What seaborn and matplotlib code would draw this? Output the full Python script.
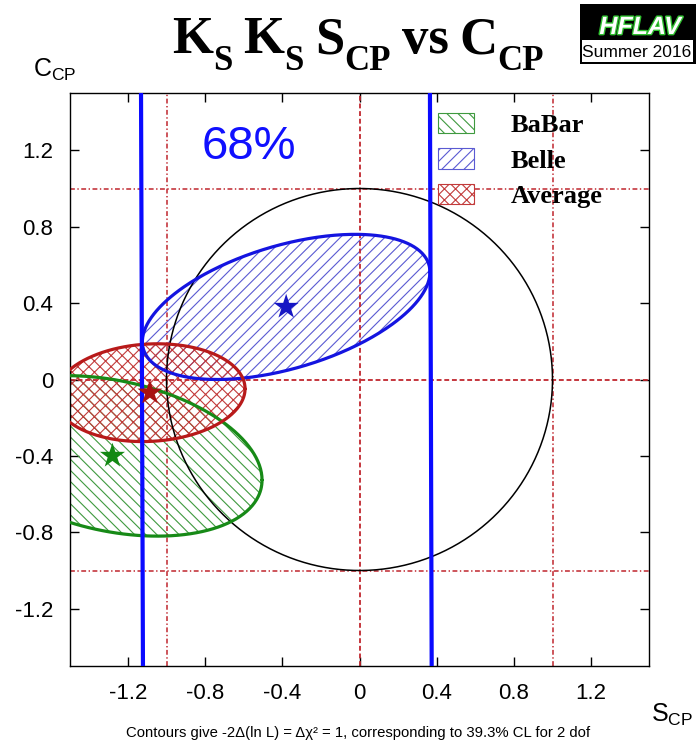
import numpy as np
import pandas as pd
import matplotlib
matplotlib.use("Agg")
import matplotlib.pyplot as plt
import matplotlib.patheffects as pe
from matplotlib.patches import Patch, Rectangle
from matplotlib.ticker import FixedLocator, FixedFormatter
import seaborn as sns

# ---- measurements: S_CP, C_CP, errors and correlation ----
experiments = ["BaBar", "Belle", "Average"]
s_cp = [-1.28, -0.38, -1.086]
c_cp = [-0.40, 0.38, -0.069]
s_err = [0.775, 0.745, 0.493]
c_err = [0.42, 0.38, 0.256]
rho = [-0.30, 0.48, 0.08]

line_colors = ["#178a17", "#1414e0", "#b81a1a"]
hatch_colors = ["#3f9a3f", "#5a5ad2", "#c23a3a"]
star_colors = ["#128812", "#1616c4", "#a81212"]
hatches = ["\\\\\\", "///", "xxx"]

# physical-boundary constraint lines (S_CP at top / bottom of the frame)
bound_top = [-1.132, 0.365]
bound_bottom = [-1.122, 0.374]

ref_dashed = [0.0]
ref_dashdot = [-1.0, 1.0]
circle_radius = 1.0

tick_values = [-1.2, -0.8, -0.4, 0.0, 0.4, 0.8, 1.2]
tick_labels = ["-1.2", "-0.8", "-0.4", "0", "0.4", "0.8", "1.2"]
axis_lim = (-1.5, 1.5)

# title pieces: (main text, subscript)
title_parts = [("K", "S"), ("K", "S"), ("S", "CP"), ("vs", ""), ("C", "CP")]

sns.set_theme(style="ticks")
plt.rcParams.update({
    "font.family": ["Liberation Sans", "DejaVu Sans"],
    "mathtext.fontset": "custom",
    "mathtext.rm": "Liberation Sans",
    "mathtext.it": "Liberation Sans:italic",
    "mathtext.sf": "Liberation Sans",
    "axes.unicode_minus": False,
    "hatch.linewidth": 0.8,
    "lines.scale_dashes": False,
    "text.color": "black",
    "axes.labelcolor": "black",
    "xtick.color": "black",
    "ytick.color": "black",
})

W, H = 696, 742
fig = plt.figure(figsize=(W / 100, H / 100), dpi=100)
ax = fig.add_axes([70 / W, 76 / H, 579 / W, 573 / H])
ax.set_xlim(*axis_lim)
ax.set_ylim(*axis_lim)


def contour(cx, cy, sx, sy, r, n=400):
    t = np.linspace(0, 2 * np.pi, n)
    x = cx + sx * np.cos(t)
    y = cy + sy * (r * np.cos(t) + np.sqrt(1 - r * r) * np.sin(t))
    return x, y


# hatched 1-sigma regions with solid outlines
for i, name in enumerate(experiments):
    x, y = contour(s_cp[i], c_cp[i], s_err[i], c_err[i], rho[i])
    ax.fill(x, y, facecolor="none", edgecolor=hatch_colors[i],
            hatch=hatches[i], linewidth=0, zorder=1)
    df = pd.DataFrame({"S": x, "C": y})
    sns.lineplot(data=df, x="S", y="C", sort=False, estimator=None,
                 color=line_colors[i], linewidth=2.3, ax=ax, zorder=3)

# reference lines
ref_red = "#c0262e"
for v in ref_dashed:
    ax.axvline(v, color=ref_red, lw=1.3, dashes=(3.5, 2.0), zorder=2)
    ax.axhline(v, color=ref_red, lw=1.3, dashes=(3.5, 2.0), zorder=2)
for v in ref_dashdot:
    ax.axvline(v, color=ref_red, lw=1.1, dashes=(3.5, 1.8, 1.0, 1.8), zorder=2)
    ax.axhline(v, color=ref_red, lw=1.1, dashes=(3.5, 1.8, 1.0, 1.8), zorder=2)

# unit circle
t = np.linspace(0, 2 * np.pi, 500)
ax.plot(circle_radius * np.cos(t), circle_radius * np.sin(t),
        color="black", lw=1.1, zorder=2.5)

# boundary lines
for xt, xb in zip(bound_top, bound_bottom):
    ax.plot([xt, xb], [axis_lim[1], axis_lim[0]], color="#0a0aff",
            lw=3.0, zorder=4, solid_capstyle="butt")

# central values
stars = pd.DataFrame({"S": s_cp, "C": c_cp, "exp": experiments})
sns.scatterplot(data=stars, x="S", y="C", hue="exp", palette=star_colors,
                marker="*", s=360, edgecolor="none", legend=False,
                ax=ax, zorder=5)

ax.text(-0.816, 1.157, "68%", color="#1010ff", fontsize=34,
        ha="left", va="baseline", zorder=6)

# axes styling
ax.set_xlabel("")
ax.set_ylabel("")
for a in (ax.xaxis, ax.yaxis):
    a.set_major_locator(FixedLocator(tick_values))
    a.set_major_formatter(FixedFormatter(tick_labels))
ax.tick_params(direction="in", length=6.5, width=1, top=True, right=True,
               labelsize=16, pad=12, colors="black", labelcolor="black")
for sp in ax.spines.values():
    sp.set_visible(True)
    sp.set_linewidth(1.0)
    sp.set_color("black")

# legend
handles = [Patch(facecolor="white", edgecolor=hatch_colors[i],
                 hatch=hatches[i], linewidth=0.8) for i in range(3)]
leg = ax.legend(handles, experiments, loc="upper left",
                bbox_to_anchor=(0.636, 0.965), frameon=False,
                prop={"family": "Liberation Serif", "weight": "bold",
                      "size": 19},
                handlelength=1.36, handleheight=0.8, handletextpad=1.4,
                labelspacing=0.42, borderpad=0, borderaxespad=0,
                labelcolor="black")

# title, laid out piece by piece so the subscripts sit low and large
renderer = fig.canvas.get_renderer()
serif = {"family": "Liberation Serif", "weight": "bold"}
base_y = 1 - 53 / H
sub_y = 1 - 70 / H
gap_px = 11
title_texts = []
xpos = 0.0
for k, (main, sub) in enumerate(title_parts):
    if k:
        xpos += gap_px
    tm = fig.text(xpos / W, base_y, main, fontsize=38, ha="left",
                  va="baseline", fontdict=serif, color="black")
    xpos += tm.get_window_extent(renderer).width
    title_texts.append(tm)
    if sub:
        ts = fig.text(xpos / W, sub_y, sub, fontsize=25, ha="left",
                      va="baseline", fontdict=serif, color="black")
        xpos += ts.get_window_extent(renderer).width
        title_texts.append(ts)
shift = 358 - xpos / 2
for tx in title_texts:
    px, py = tx.get_position()
    tx.set_position((px + shift / W, py))

fig.text(33 / W, 1 - 77 / H, r"$\mathrm{C}_{\mathrm{CP}}$", fontsize=18,
         ha="left", va="baseline", color="black")
fig.text(651 / W, 1 - 722 / H, r"$\mathrm{S}_{\mathrm{CP}}$", fontsize=18,
         ha="left", va="baseline", color="black")
fig.text(358 / W, 1 - 733 / H,
         "Contours give -2\u0394(ln L) = \u0394\u03c7\u00b2 = 1, corresponding to 39.3% CL for 2 dof",
         fontsize=10.7, ha="center", va="center", color="black")

# HFLAV badge
fig.add_artist(Rectangle((580 / W, 1 - 64 / H), 120 / W, 60 / H,
                         transform=fig.transFigure, facecolor="black",
                         edgecolor="none"))
fig.add_artist(Rectangle((582 / W, 1 - 62 / H), 111 / W, 22 / H,
                         transform=fig.transFigure, facecolor="white",
                         edgecolor="none"))
fig.text(640 / W, 1 - 34 / H, "HFLAV", fontsize=18, fontweight="bold",
         fontstyle="italic", color="white", ha="center", va="baseline",
         path_effects=[pe.withStroke(linewidth=2, foreground="#2fbf2f")])
fig.text(637 / W, 1 - 57 / H, "Summer 2016", fontsize=12.5, color="black",
         ha="center", va="baseline")

fig.savefig("out.png", dpi=100)
